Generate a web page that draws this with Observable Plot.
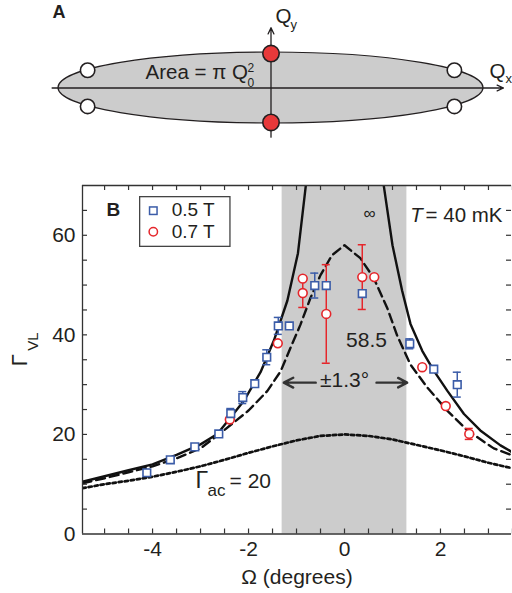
<!DOCTYPE html>
<html><head><meta charset="utf-8">
<script src="https://cdn.jsdelivr.net/npm/d3@7"></script>
<script src="https://cdn.jsdelivr.net/npm/@observablehq/plot@0.6"></script>
<style>
body{margin:0;background:#fff;}
#wrap{position:relative;width:512px;height:593px;overflow:hidden;font-family:"Liberation Sans",Arial,sans-serif;}
#wrap svg{display:block}
#legend{position:absolute;left:139px;top:196px;}
</style></head><body>
<div id="wrap"><div id="a"></div><div id="b"></div><svg id="legend" width="92" height="51"></svg></div>
<script>
// ---------- data (panel B) ----------
const seriesNames = ["0.5 T", "0.7 T"];
const blueX   = [-4.12, -3.63, -3.12, -2.62, -2.37, -2.12, -1.87, -1.62, -1.38, -1.15, -0.62, -0.38, 0.37, 1.36, 1.86, 2.35];
const blueY   = [12.3, 14.9, 17.5, 20.1, 24.2, 27.4, 30.2, 35.5, 41.8, 41.8, 49.9, 49.9, 48.3, 38.2, 33.1, 30.0];
const blueErr = [0, 0, 0, 0, 1.0, 1.2, 0, 1.5, 1.7, 0, 2.5, 0, 0, 1.0, 0, 2.5];
const redX    = [-2.39, -1.39, -0.87, -0.87, -0.38, 0.37, 0.62, 1.62, 2.11, 2.6];
const redY    = [23.0, 38.3, 51.3, 48.4, 44.2, 51.6, 51.6, 33.5, 25.7, 20.1];
const redErr  = [0, 0, 0, 2.9, 9.9, 6.5, 0, 0, 0, 1.1];

const solidLeftX  = [-5.46, -5.0, -4.5, -4.0, -3.5, -3.0, -2.65, -2.1, -1.75, -1.47, -1.19, -0.97, -0.8];
const solidLeftY  = [10.5, 11.6, 12.8, 14.0, 15.9, 18.0, 20.1, 26.7, 32.5, 38.9, 46.9, 56.4, 70.5];
const solidRightX = [0.81, 1.0, 1.2, 1.375, 1.62, 1.86, 2.14, 2.49, 2.83, 3.25, 3.5];
const solidRightY = [70.5, 58.0, 48.9, 42.2, 36.8, 32.8, 28.8, 24.1, 20.8, 17.8, 16.4];
const dashX = [-5.46, -5.0, -4.5, -4.0, -3.5, -3.0, -2.5, -2.0, -1.61, -1.33, -1.125, -0.92, -0.71, -0.5, -0.26, 0, 0.33, 0.61, 0.89, 1.1, 1.37, 1.72, 2.14, 2.56, 3.11, 3.5];
const dashY = [10.2, 11.2, 12.4, 13.6, 15.2, 17.2, 20.9, 24.8, 28.7, 32.7, 37.4, 42.0, 47.4, 52.0, 56.0, 58.0, 55.4, 51.4, 45.4, 39.8, 34.1, 29.5, 24.8, 20.8, 17.2, 15.8];
const dotX = [-5.46, -5.0, -4.5, -4.0, -3.5, -3.0, -2.5, -2.0, -1.5, -1.0, -0.5, 0, 0.5, 1.0, 1.5, 2.0, 2.5, 3.0, 3.5];
const dotY = [9.2, 10.0, 10.7, 11.5, 12.5, 13.6, 14.9, 16.3, 17.6, 18.8, 19.7, 20.0, 19.7, 19.0, 17.9, 16.8, 15.6, 14.3, 13.2];

const band = [-1.3, 1.3];
const xDomain = [-5.46, 3.48];
const yDomain = [0, 70];
const xTickLabels = [-4, -2, 0, 2];
const yTickLabels = [0, 20, 40, 60];
const xTickPos = d3.range(-5, 3.51, 0.5);
const yTickPos = d3.range(5, 66, 5);

// ---------- data (panel A schematic, Q units) ----------
const redSpotsX = [0, 0], redSpotsY = [0.97, -0.97];
const whiteSpotsX = [-0.863, -0.863, 0.863, 0.863], whiteSpotsY = [0.5, -0.52, 0.5, -0.52];

// ---------- build ----------
const blue = blueX.map((x, i) => ({x, y: blueY[i], e: blueErr[i]}));
const red = redX.map((x, i) => ({x, y: redY[i], e: redErr[i]}));
const blueE = blue.filter(d => d.e > 0), redE = red.filter(d => d.e > 0);
const solidL = solidLeftX.map((x, i) => ({x, y: solidLeftY[i]}));
const solidR = solidRightX.map((x, i) => ({x, y: solidRightY[i]}));
const dashed = dashX.map((x, i) => ({x, y: dashY[i]}));
const dotted = dotX.map((x, i) => ({x, y: dotY[i]}));

const FONT = '"Liberation Sans", Arial, sans-serif';
const INK = "#231f20", AX = "#333";
const BLUE = "#3b5ca8", RED = "#e5262b";

// Panel A
const plotA = Plot.plot({
  width: 512, height: 160, margin: 0,
  x: {domain: [-1, 1], range: [58, 483], axis: null},
  y: {domain: [-1, 1], range: [123, 52], axis: null},
  style: {fontFamily: FONT, fontSize: "20px", color: INK, background: "white", overflow: "visible"},
  marks: [
    Plot.arrow([0], {x1: -1.03, x2: 1.094, y1: 0, y2: 0, stroke: INK, strokeWidth: 1.3, headLength: 8, headAngle: 50}),
    Plot.arrow([0], {x1: 0, x2: 0, y1: -1.386, y2: 1.70, stroke: INK, strokeWidth: 1.3, headLength: 8, headAngle: 50}),
    Plot.dot(redSpotsX.map((x, i) => ({x, y: redSpotsY[i]})), {x: "x", y: "y", r: 8.2, fill: "#e8393a", stroke: INK, strokeWidth: 1.6}),
    Plot.dot(whiteSpotsX.map((x, i) => ({x, y: whiteSpotsY[i]})), {x: "x", y: "y", r: 7.2, fill: "white", stroke: INK, strokeWidth: 1.6}),
    Plot.text(["A"], {x: -1.028, y: 1.977, textAnchor: "start", lineAnchor: "bottom", fontWeight: "bold", fontSize: 18}),
    Plot.text(["Area = π Q"], {x: -0.5906, y: 0.259, textAnchor: "start", lineAnchor: "bottom", fontSize: 20.5}),
    Plot.text(["2"], {x: -0.1106, y: 0.437, textAnchor: "start", lineAnchor: "bottom", fontSize: 12}),
    Plot.text(["0"], {x: -0.1106, y: 0.042, textAnchor: "start", lineAnchor: "bottom", fontSize: 12}),
    Plot.text(["Q"], {x: 0.021, y: 1.817, textAnchor: "start", lineAnchor: "bottom", fontSize: 20.5}),
    Plot.text(["y"], {x: 0.092, y: 1.648, textAnchor: "start", lineAnchor: "bottom", fontSize: 13}),
    Plot.text(["Q"], {x: 1.028, y: 0.268, textAnchor: "start", lineAnchor: "bottom", fontSize: 20.5}),
    Plot.text(["x"], {x: 1.104, y: 0.127, textAnchor: "start", lineAnchor: "bottom", fontSize: 13})
  ]
});
{
  const sx = plotA.scale("x"), sy = plotA.scale("y");
  const cx = sx.apply(0), cy = sy.apply(0);
  const el = document.createElementNS("http://www.w3.org/2000/svg", "ellipse");
  el.setAttribute("cx", cx); el.setAttribute("cy", cy);
  el.setAttribute("rx", sx.apply(1) - cx); el.setAttribute("ry", cy - sy.apply(1));
  el.setAttribute("fill", "#cccccc"); el.setAttribute("stroke", INK); el.setAttribute("stroke-width", 1.2);
  const firstG = plotA.querySelector("g");
  plotA.insertBefore(el, firstG);
}
document.getElementById("a").appendChild(plotA);

// Panel B
const W = 512, H = 433, mT = 25, mB = 59.5, mL = 82, mR = 1;
const pw = W - mL - mR, ph = H - mT - mB, tk = 5;
const plotB = Plot.plot({
  width: W, height: H, marginTop: mT, marginBottom: mB, marginLeft: mL, marginRight: mR,
  x: {domain: xDomain, axis: null},
  y: {domain: yDomain, axis: null},
  style: {fontFamily: FONT, fontSize: "21px", color: INK, background: "white", overflow: "visible"},
  marks: [
    Plot.rect([band], {x1: d => d[0], x2: d => d[1], y1: yDomain[0], y2: yDomain[1], fill: "#cccccc"}),
    Plot.line(dotted, {x: "x", y: "y", stroke: "#111", strokeWidth: 2.7, strokeDasharray: "3.3,2.8", clip: true}),
    Plot.line(dashed, {x: "x", y: "y", stroke: "#111", strokeWidth: 2.4, strokeDasharray: "9,5", clip: true}),
    Plot.line(solidL, {x: "x", y: "y", stroke: "#111", strokeWidth: 2.4, clip: true}),
    Plot.line(solidR, {x: "x", y: "y", stroke: "#111", strokeWidth: 2.4, clip: true}),
    Plot.ruleY([yDomain[0], yDomain[1]], {stroke: AX, strokeWidth: 1.3}),
    Plot.ruleX([xDomain[0]], {stroke: AX, strokeWidth: 1.3}),
    Plot.tickX(xTickPos, {x: d => d, insetTop: ph - tk, stroke: AX, strokeWidth: 1.2}),
    Plot.tickX(xTickPos, {x: d => d, insetBottom: ph - tk, stroke: AX, strokeWidth: 1.2}),
    Plot.tickY(yTickPos, {y: d => d, insetRight: pw - tk, stroke: AX, strokeWidth: 1.2}),
    Plot.tickY(yTickPos, {y: d => d, insetLeft: pw - tk, stroke: AX, strokeWidth: 1.2}),
    Plot.text(xTickLabels, {x: d => d, text: d => String(d), frameAnchor: "bottom", lineAnchor: "top", dy: 7, fill: INK}),
    Plot.text(yTickLabels, {y: d => d, text: d => String(d), frameAnchor: "left", textAnchor: "end", lineAnchor: "middle", dx: -7, fill: INK}),
    Plot.text(["Ω (degrees)"], {frameAnchor: "bottom", lineAnchor: "bottom", dy: 50, fill: INK}),
    Plot.text(["Γ"], {frameAnchor: "left", rotate: -90, lineAnchor: "bottom", dx: -56, dy: 6.4, fontSize: 22, fill: INK}),
    Plot.text(["VL"], {frameAnchor: "left", rotate: -90, lineAnchor: "bottom", dx: -45, dy: -9, fontSize: 15, fill: INK}),
    // error bars
    Plot.ruleX(blueE, {x: "x", y1: d => d.y - d.e, y2: d => d.y + d.e, stroke: BLUE, strokeWidth: 1.5}),
    Plot.ruleY(blueE, {y: d => d.y - d.e, x1: "x", x2: "x", insetLeft: -4, insetRight: -4, stroke: BLUE, strokeWidth: 1.5}),
    Plot.ruleY(blueE, {y: d => d.y + d.e, x1: "x", x2: "x", insetLeft: -4, insetRight: -4, stroke: BLUE, strokeWidth: 1.5}),
    Plot.ruleX(redE, {x: "x", y1: d => d.y - d.e, y2: d => d.y + d.e, stroke: RED, strokeWidth: 1.5}),
    Plot.ruleY(redE, {y: d => d.y - d.e, x1: "x", x2: "x", insetLeft: -4, insetRight: -4, stroke: RED, strokeWidth: 1.5}),
    Plot.ruleY(redE, {y: d => d.y + d.e, x1: "x", x2: "x", insetLeft: -4, insetRight: -4, stroke: RED, strokeWidth: 1.5}),
    Plot.dot(red, {x: "x", y: "y", symbol: "circle", r: 4.4, fill: "white", stroke: RED, strokeWidth: 1.6}),
    Plot.dot(blue, {x: "x", y: "y", symbol: "square", r: 4.3, fill: "white", stroke: BLUE, strokeWidth: 1.6}),
    // annotations
    Plot.text(["B"], {x: -4.96, y: 63.95, textAnchor: "start", lineAnchor: "bottom", fontWeight: "bold", fontSize: 19, fill: INK}),
    Plot.text(["∞"], {x: 0.52, y: 63.25, textAnchor: "middle", lineAnchor: "bottom", fontSize: 17, fill: INK}),
    Plot.text(["T"], {x: 1.37, y: 62.6, textAnchor: "start", lineAnchor: "bottom", fontStyle: "italic", fontSize: 20.5, fill: INK}),
    Plot.text(["= 40 mK"], {x: 1.69, y: 62.6, textAnchor: "start", lineAnchor: "bottom", fontSize: 20.5, fill: INK}),
    Plot.text(["58.5"], {x: 0.458, y: 37.5, textAnchor: "middle", lineAnchor: "bottom", fontSize: 21, fill: INK}),
    Plot.text(["±1.3°"], {x: 0, y: 29.6, textAnchor: "middle", lineAnchor: "bottom", fontSize: 21, fill: INK}),
    Plot.arrow([0], {x1: -0.6, x2: -1.265, y1: 30.4, y2: 30.4, stroke: AX, strokeWidth: 2.4, headLength: 9, headAngle: 55}),
    Plot.arrow([0], {x1: 0.667, x2: 1.306, y1: 30.4, y2: 30.4, stroke: AX, strokeWidth: 2.4, headLength: 9, headAngle: 55}),
    Plot.text(["Γ"], {x: -3.104, y: 9.14, textAnchor: "start", lineAnchor: "bottom", fontSize: 23, fill: INK}),
    Plot.text(["ac"], {x: -2.854, y: 7.73, textAnchor: "start", lineAnchor: "bottom", fontSize: 17, fill: INK}),
    Plot.text(["= 20"], {x: -2.396, y: 9.14, textAnchor: "start", lineAnchor: "bottom", fontSize: 21, fill: INK})
  ]
});
document.getElementById("b").appendChild(plotB);

// Legend (boxed, inside panel B)
{
  const lg = d3.select("#legend");
  lg.append("rect").attr("x", 0.65).attr("y", 0.65).attr("width", 90.3).attr("height", 49.7)
    .attr("fill", "white").attr("stroke", "#444").attr("stroke-width", 1.3);
  lg.append("rect").attr("x", 10.55).attr("y", 10.95).attr("width", 7.5).attr("height", 7.5)
    .attr("fill", "white").attr("stroke", BLUE).attr("stroke-width", 1.5);
  lg.append("circle").attr("cx", 14.3).attr("cy", 35.7).attr("r", 4.2)
    .attr("fill", "white").attr("stroke", RED).attr("stroke-width", 1.5);
  lg.selectAll("text.l").data(seriesNames).join("text").attr("class", "l")
    .attr("x", 32.7).attr("y", (d, i) => i === 0 ? 20.3 : 41.6)
    .attr("font-size", 19).attr("font-family", FONT).attr("fill", INK).text(d => d);
}
</script>
</body></html>
